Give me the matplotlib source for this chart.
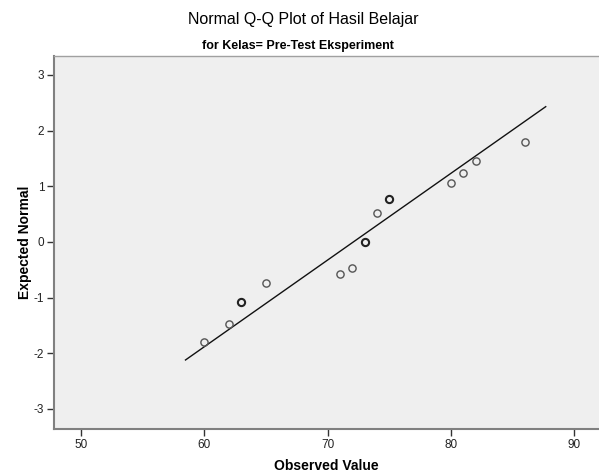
import matplotlib
matplotlib.use("Agg")
import matplotlib.pyplot as plt

# --- data ---
observed = [60, 62, 63, 65, 71, 72, 73, 74, 75, 80, 81, 82, 86]
expected = [-1.80, -1.47, -1.07, -0.74, -0.57, -0.47, 0.0, 0.52, 0.78, 1.06, 1.24, 1.46, 1.80]
counts = [1, 1, 2, 1, 1, 1, 3, 1, 2, 1, 1, 1, 1]

# reference line (mean / sd of the data)
line_x = [58.46, 87.67]
line_y = [-2.12, 2.43]

x_ticks = [50, 60, 70, 80, 90]
y_ticks = [-3, -2, -1, 0, 1, 2, 3]

plt.rcParams["font.family"] = ["Liberation Sans", "DejaVu Sans"]
plt.rcParams["axes.unicode_minus"] = False

fig = plt.figure(figsize=(5.99, 4.73), dpi=100)
ax = fig.add_axes([0.0902, 0.093, 0.91, 0.7886])
ax.set_facecolor("#efefef")

ax.plot(line_x, line_y, color="#111111", linewidth=1.0, zorder=2)

for x, y, c in zip(observed, expected, counts):
    ax.plot(x, y, marker="o", markersize=5.2, markerfacecolor="none",
            markeredgecolor="#222222" if c > 1 else "#555555",
            markeredgewidth=1.5 if c > 1 else 1.0, linestyle="none", zorder=3)

ax.set_xlim(47.8, 92.0)
ax.set_ylim(-3.36, 3.34)
ax.set_xticks(x_ticks)
ax.set_yticks(y_ticks)

for side in ["left", "bottom"]:
    ax.spines[side].set_color("#808080")
    ax.spines[side].set_linewidth(1.5)
ax.spines["top"].set_color("#a0a0a0")
ax.spines["top"].set_linewidth(1.0)
ax.spines["right"].set_visible(False)

ax.tick_params(direction="out", length=5, width=1, color="#333333",
               labelsize=8.5, labelcolor="#222222", pad=2)

ax.set_xlabel("Observed Value", fontsize=10, fontweight="bold", labelpad=6)
ax.set_ylabel("Expected Normal", fontsize=10, fontweight="bold", labelpad=1)

fig.text(0.506, 0.958, "Normal Q-Q Plot of Hasil Belajar", ha="center", va="center",
         fontsize=11.5)
fig.text(0.498, 0.902, "for Kelas= Pre-Test Eksperiment", ha="center", va="center",
         fontsize=9, fontweight="bold")

fig.savefig("out.png", dpi=100)
